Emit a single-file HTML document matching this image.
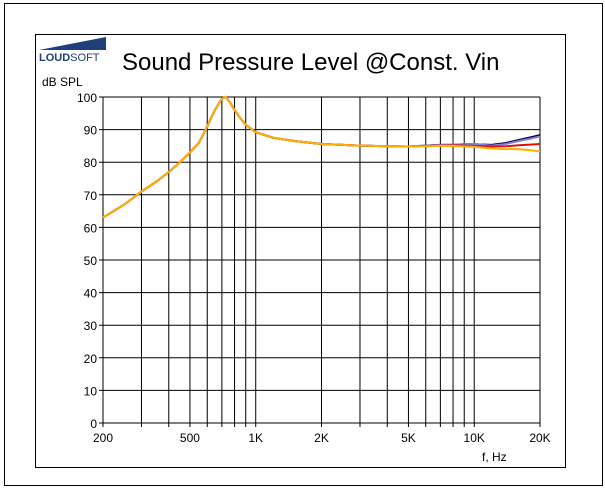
<!DOCTYPE html>
<html><head><meta charset="utf-8"><style>
body{margin:0;background:#fff;width:605px;height:488px;overflow:hidden;font-family:"Liberation Sans",sans-serif}
</style></head><body>
<svg id="c" width="605" height="488" xmlns="http://www.w3.org/2000/svg">
<rect x="4.5" y="3.5" width="598" height="482" fill="none" stroke="#000"/>
<rect x="35.5" y="34.5" width="530" height="433" fill="none" stroke="#000"/>
<g>
<polygon points="39,50 106,37 106,50" fill="#1e3f7a"/>
<text x="39" y="61" font-size="11" font-weight="bold" fill="#1e3f7a">LOUD<tspan font-weight="normal">SOFT</tspan></text>
</g>
<text x="122" y="70" font-size="24">Sound Pressure Level @Const. Vin</text>
<text x="42" y="86" font-size="12">dB SPL</text>
<text x="482" y="461" font-size="12">f, Hz</text>
<g id="grid"></g><g id="series"></g>
</svg>
<script>
const xTicks=[200,500,1000,2000,5000,10000,20000];
const xTickLabels=["200","500","1K","2K","5K","10K","20K"];
const xGrid=[300,400,500,600,700,800,900,1000,2000,3000,4000,5000,6000,7000,8000,9000,10000,20000];
const yTicks=[0,10,20,30,40,50,60,70,80,90,100];
const freqs=[200,250,300,350,400,450,500,550,600,650,700,730,760,800,850,900,1000,1200,1500,2000,3000,4000,5000,6000,7000,8000,9000,10000,12000,14000,16000,18000,20000];
const orange=[63,67,71,74,77,80,83,86,91,96,99.5,100,98.5,96,93.5,91.5,89.2,87.5,86.5,85.6,85.1,84.9,84.8,84.9,85,85,84.8,84.7,84.2,84,84,83.7,83.3];
const red=[63,67,71,74,77,80,83,86,91,96,99.5,100,98.5,96,93.5,91.5,89.2,87.5,86.5,85.6,85.1,84.9,84.8,85,85.1,85.2,85.1,85,84.8,84.9,85.2,85.4,85.6];
const blue=[63,67,71,74,77,80,83,86,91,96,99.5,100,98.5,96,93.5,91.5,89.2,87.5,86.5,85.6,85.1,84.9,84.8,85.1,85.3,85.4,85.5,85.6,85.1,85.6,86.5,87.2,87.9];
const black=[63,67,71,74,77,80,83,86,91,96,99.5,100,98.5,96,93.5,91.5,89.2,87.5,86.5,85.6,85.1,84.9,84.8,85.1,85.3,85.3,85.5,85.5,85.3,85.9,86.8,87.6,88.3];
const X0=103,X1=540,Y0=423,Y1=97;
const xs=f=>X0+(Math.log10(f)-Math.log10(200))/2*(X1-X0);
const ys=v=>Y0-v/100*(Y0-Y1);
const NS="http://www.w3.org/2000/svg";
const g=document.getElementById('grid'),sg=document.getElementById('series');
function mk(t,a,p){const e=document.createElementNS(NS,t);for(const k in a)e.setAttribute(k,a[k]);p.appendChild(e);return e;}
xGrid.forEach(f=>{const e=mk('line',{x1:xs(f),x2:xs(f),y1:Y1,y2:Y0+4,stroke:'#000'},g);

});
yTicks.forEach(v=>{const e=mk('line',{x1:X0-4,x2:X1,y1:ys(v),y2:ys(v),stroke:'#000'},g);


const t=mk('text',{x:X0-6,y:ys(v)+5,'font-size':12,'text-anchor':'end'},g);t.textContent=v;

});
const l=mk('line',{x1:X0,x2:X0,y1:Y1,y2:Y0+4,stroke:'#000'},g);


xTicks.forEach((f,i)=>{const t=mk('text',{x:xs(f),y:Y0+19,'font-size':12,'text-anchor':'middle'},g);t.textContent=xTickLabels[i];

});
[[black,'#000030','series-black'],[blue,'#8080e0','series-blue'],[red,'#e01010','series-red'],[orange,'#ffb000','series-orange']].forEach(([d,c,n])=>{
const p=mk('polyline',{points:freqs.map((f,i)=>xs(f)+','+ys(d[i])).join(' '),fill:'none',stroke:c,'stroke-width':2},sg);

});
</script>
</body></html>
